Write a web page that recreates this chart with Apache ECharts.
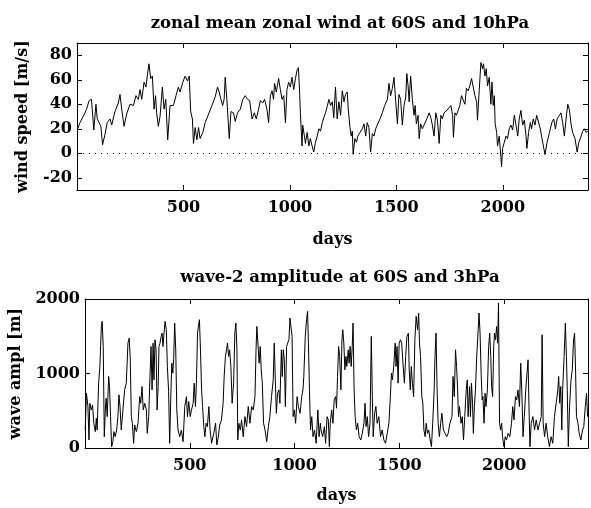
<!DOCTYPE html>
<html>
<head>
<meta charset="utf-8">
<script src="https://cdn.jsdelivr.net/npm/echarts@6/dist/echarts.min.js"></script>
<style>html,body{margin:0;padding:0;background:#fff}#c{width:591px;height:508px}</style>
</head>
<body>
<div id="c"></div>
<script>
// ---- data ----
const windDays = [1,14,29,45,57,68,79,89,95,103,112,120,131,142,155,163,178,194,202,210,221,233,249,265,277,288,296,304,315,324,330,338,346,354,362,369,374,382,390,401,409,417,426,437,453,465,476,484,497,508,519,527,534,542,547,555,563,571,578,591,602,618,634,649,660,668,676,684,691,696,704,715,723,735,743,754,767,779,790,801,811,822,833,842,853,861,872,881,892,900,908,916,923,928,936,947,955,963,971,979,986,994,1002,1010,1018,1026,1034,1040,1046,1049,1057,1060,1068,1073,1081,1089,1096,1104,1112,1120,1128,1136,1144,1152,1159,1167,1175,1183,1191,1199,1206,1214,1222,1230,1238,1246,1254,1261,1269,1274,1282,1288,1293,1297,1305,1313,1319,1329,1340,1348,1356,1363,1371,1379,1387,1395,1403,1410,1423,1434,1445,1458,1465,1473,1481,1489,1497,1505,1512,1520,1528,1536,1544,1549,1555,1560,1567,1575,1583,1588,1594,1602,1607,1614,1622,1630,1643,1654,1662,1669,1677,1685,1693,1701,1709,1716,1724,1737,1756,1764,1768,1775,1782,1790,1798,1806,1814,1822,1829,1837,1845,1853,1861,1869,1877,1881,1889,1897,1905,1909,1916,1922,1928,1936,1944,1949,1955,1960,1964,1971,1975,1983,1989,1994,1999,2007,2015,2022,2030,2038,2046,2054,2062,2070,2077,2085,2093,2101,2109,2113,2121,2129,2135,2143,2151,2159,2167,2176,2187,2198,2208,2219,2230,2239,2247,2255,2266,2273,2281,2289,2297,2305,2313,2321,2328,2339,2349,2357,2368,2375,2383,2391,2399];
const windSpeed = [19,25,30,36,43,44,19,40,28,29,22,7,15,25,28,23,34,41,48,36,22,32,40,39,47,44,52,44,58,54,63,73,61,63,36,47,33,22,30,54,36,44,11,39,39,47,54,50,58,63,59,63,34,28,8,21,11,21,12,17,25,32,39,46,54,50,44,39,44,62,44,12,34,33,26,33,36,44,47,44,43,28,33,28,36,43,41,44,36,25,47,51,44,57,50,61,52,44,47,25,52,58,54,62,52,61,68,70,48,33,6,23,14,8,17,6,12,6,1,9,14,20,18,25,29,33,38,44,39,42,29,54,28,42,31,51,42,48,50,36,21,14,18,-1,12,9,14,17,20,24,14,25,21,1,16,14,20,23,28,33,39,44,57,47,53,62,42,24,48,44,23,39,46,65,55,42,63,44,31,39,24,31,12,24,20,23,28,33,29,23,14,33,27,8,31,28,33,35,39,31,13,33,31,35,39,47,46,40,53,51,55,61,54,47,42,27,51,74,69,73,63,69,55,62,40,58,39,47,24,17,6,14,1,-11,4,9,14,12,20,23,19,31,23,14,28,35,23,27,14,4,17,25,20,28,23,31,32,20,9,-1,9,17,25,28,20,28,31,33,25,14,28,40,35,23,17,12,1,9,14,18,20,17,18];

const waveDays = [1,7,14,19,23,30,36,42,49,54,58,65,71,78,82,87,92,97,101,106,113,117,122,127,133,138,144,151,157,162,167,173,181,189,197,205,211,216,221,226,232,237,245,253,261,266,272,278,285,293,297,304,310,315,320,325,329,334,339,344,349,353,358,363,368,372,377,382,388,393,399,404,409,414,419,423,428,433,438,444,452,460,468,476,484,489,495,502,508,516,521,527,532,537,541,546,551,556,561,567,572,578,584,591,597,604,610,616,623,629,635,643,651,659,664,670,675,680,685,690,696,702,709,715,720,725,729,734,741,747,755,763,771,779,787,795,803,811,816,820,827,831,836,841,846,852,859,867,875,882,890,898,903,908,913,919,925,930,937,941,946,951,956,962,967,973,978,983,988,993,999,1005,1012,1018,1026,1034,1040,1044,1051,1057,1062,1066,1071,1076,1082,1088,1095,1103,1111,1117,1123,1126,1134,1142,1148,1155,1161,1166,1170,1177,1183,1189,1196,1200,1205,1210,1215,1221,1226,1230,1235,1240,1245,1249,1256,1260,1265,1270,1275,1279,1284,1289,1295,1301,1308,1316,1323,1331,1336,1341,1347,1353,1360,1366,1371,1375,1382,1388,1394,1402,1410,1418,1426,1434,1442,1450,1457,1462,1467,1473,1480,1484,1489,1494,1499,1505,1511,1517,1524,1530,1536,1543,1547,1552,1557,1562,1568,1574,1580,1587,1592,1596,1601,1607,1612,1617,1623,1628,1634,1640,1647,1653,1659,1666,1670,1675,1680,1685,1691,1697,1703,1710,1718,1726,1733,1741,1751,1756,1762,1768,1773,1778,1782,1787,1794,1800,1806,1812,1819,1824,1828,1835,1839,1844,1849,1853,1858,1863,1869,1876,1880,1885,1890,1895,1899,1904,1909,1913,1920,1926,1931,1936,1940,1945,1950,1954,1959,1964,1969,1973,1978,1983,1988,1992,1999,2005,2011,2019,2027,2035,2041,2047,2054,2060,2066,2073,2079,2084,2090,2096,2103,2109,2114,2118,2123,2129,2137,2145,2153,2161,2169,2177,2181,2186,2193,2200,2208,2216,2224,2232,2240,2248,2256,2260,2265,2270,2275,2279,2286,2292,2297,2301,2306,2312,2319,2325,2331,2336,2341,2345,2352,2358,2366,2374,2380,2387,2393,2398];
const waveAmpl = [242,735,556,108,600,511,578,332,220,399,242,870,1094,1632,1700,1363,152,511,668,421,960,825,421,18,85,220,152,242,421,713,556,242,511,780,870,1408,1475,1184,421,332,63,309,220,332,690,600,825,511,600,511,197,421,960,1363,780,1408,915,1453,1318,511,825,1363,1408,1497,1542,1363,1542,1700,1587,1094,758,63,646,1139,1004,1184,1677,1318,511,242,152,242,85,556,690,421,623,421,511,600,870,556,915,1542,1632,1722,1318,803,556,287,152,332,287,556,242,63,40,220,332,40,130,309,377,600,960,1229,1318,1408,1229,1318,1094,600,870,1542,1677,1318,108,332,242,377,152,421,287,556,332,556,511,690,1318,1632,1318,1139,1363,1049,870,332,242,85,287,421,690,915,1408,915,466,735,780,600,1318,960,1318,1184,556,1363,1408,1453,1744,1722,1497,421,511,332,690,556,466,690,780,960,1498,1722,1834,1408,780,242,421,152,242,63,511,152,332,242,152,287,63,421,377,18,332,511,332,646,690,534,960,1363,1229,780,1453,1587,1408,1049,1229,1094,1318,1139,1363,1094,1363,1677,780,421,242,332,152,108,197,332,601,287,421,152,332,1498,690,152,466,556,332,421,152,242,108,63,197,332,690,1004,915,1094,1408,1094,1363,870,1408,1453,1408,1139,870,1229,1498,1542,1049,780,1094,870,690,1453,1767,1587,1812,1408,1229,690,601,242,152,332,197,242,108,18,332,780,1229,1542,780,332,152,332,466,242,197,152,197,332,421,960,690,1318,1094,780,421,556,332,421,108,421,780,915,421,825,421,870,601,197,556,780,1229,1587,1812,1542,1004,646,690,332,735,556,780,1363,1542,1229,825,690,1363,1542,1453,1632,1408,1946,332,242,332,152,18,152,108,197,152,332,556,377,690,646,780,556,1139,780,152,421,780,1004,1184,601,18,332,421,242,377,242,332,421,1520,332,152,332,152,18,152,63,421,601,780,960,601,825,242,780,1229,1677,1229,780,18,556,915,1049,1453,1542,1004,421,332,197,108,242,287,556,735,421];

const xTicks = [500, 1000, 1500, 2000];
const windTicks = [-20, 0, 20, 40, 60, 80];
const waveTicks = [0, 1000, 2000];

// ---- chart ----
const FONT = 'DejaVu Serif';
const chart = echarts.init(document.getElementById('c'), null, {renderer: 'canvas'});
const windData = windDays.map((d, i) => [d, windSpeed[i]]);
const waveData = waveDays.map((d, i) => [d, waveAmpl[i]]);
const plain = v => String(v);

function xAx(gridIndex, pos, labels, name, gap) {
  return {
    type: 'value', gridIndex, position: pos, min: 0, max: 2400,
    axisLine: {show: true, onZero: false, lineStyle: {color: '#000', width: 1}},
    axisTick: {show: true, inside: true, length: 5, customValues: xTicks, lineStyle: {color: '#000'}},
    axisLabel: {show: labels, customValues: xTicks, formatter: plain, color: '#000', fontFamily: FONT, fontWeight: 'bold', fontSize: 16, margin: 10},
    splitLine: {show: false},
    name: name, nameLocation: 'middle', nameGap: gap,
    nameTextStyle: {color: '#000', fontFamily: FONT, fontWeight: 'bold', fontSize: 16}
  };
}
function yAx(gridIndex, pos, labels, min, max, ticks, name, gap) {
  return {
    type: 'value', gridIndex, position: pos, min, max,
    axisLine: {show: true, onZero: false, lineStyle: {color: '#000', width: 1}},
    axisTick: {show: true, inside: true, length: 5, customValues: ticks, lineStyle: {color: '#000'}},
    axisLabel: {show: labels, customValues: ticks, formatter: plain, color: '#000', fontFamily: FONT, fontWeight: 'bold', fontSize: 16, margin: 5},
    splitLine: {show: false},
    name: name, nameLocation: 'middle', nameGap: gap,
    nameTextStyle: {color: '#000', fontFamily: FONT, fontWeight: 'bold', fontSize: 16}
  };
}

chart.setOption({
  animation: false,
  backgroundColor: '#fff',
  title: [
    {text: 'zonal mean zonal wind at 60S and 10hPa', left: 335, top: 10, textAlign: 'center',
     textStyle: {color: '#000', fontFamily: FONT, fontWeight: 'bold', fontSize: 16.5}},
    {text: 'wave-2 amplitude at 60S and 3hPa', left: 335, top: 264, textAlign: 'center',
     textStyle: {color: '#000', fontFamily: FONT, fontWeight: 'bold', fontSize: 16.5}}
  ],
  grid: [
    {left: 77, top: 43, width: 511, height: 147},
    {left: 84, top: 299, width: 504, height: 149}
  ],
  xAxis: [
    xAx(0, 'bottom', true, 'days', 42),
    xAx(0, 'top', false, '', 0),
    xAx(1, 'bottom', true, 'days', 40),
    xAx(1, 'top', false, '', 0)
  ],
  yAxis: [
    yAx(0, 'left', true, -30, 90, windTicks, 'wind speed [m/s]', 46),
    yAx(0, 'right', false, -30, 90, windTicks, '', 0),
    yAx(1, 'left', true, 0, 2000, waveTicks, 'wave ampl [m]', 61),
    yAx(1, 'right', false, 0, 2000, waveTicks, '', 0)
  ],
  series: [
    {type: 'line', xAxisIndex: 0, yAxisIndex: 0, data: windData, showSymbol: false,
     lineStyle: {color: '#000', width: 1}, silent: true,
     markLine: {silent: true, symbol: ['none', 'none'], label: {show: false},
       lineStyle: {color: '#000', width: 1, type: [1, 5]}, data: [{yAxis: 0}]}},
    {type: 'line', xAxisIndex: 2, yAxisIndex: 2, data: waveData, showSymbol: false,
     lineStyle: {color: '#000', width: 1}, silent: true}
  ]
});
</script>
</body>
</html>
